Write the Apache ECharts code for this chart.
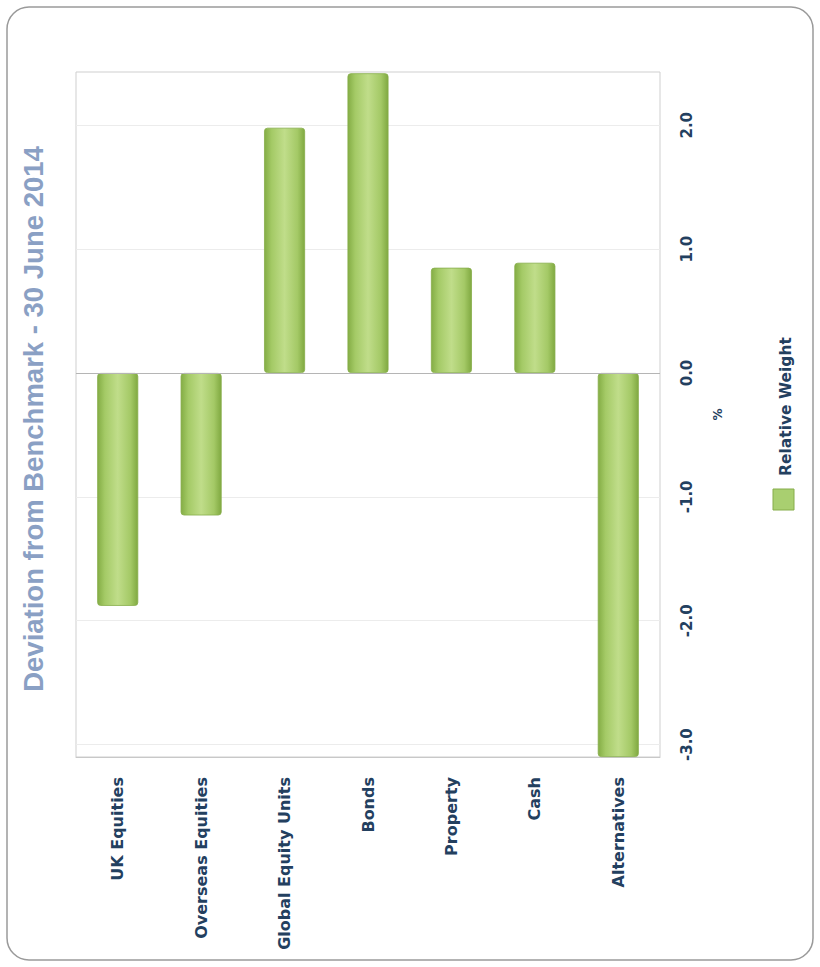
<!DOCTYPE html>
<html>
<head>
<meta charset="utf-8">
<script src="https://cdn.jsdelivr.net/npm/echarts@6/dist/echarts.min.js"></script>
<style>
html,body{margin:0;padding:0;background:#fff;}
#chart{width:820px;height:967px;}
</style>
</head>
<body>
<div id="chart"></div>
<script>
var titleText = 'Deviation from Benchmark - 30 June 2014';
var categories = ['UK Equities', 'Overseas Equities', 'Global Equity Units', 'Bonds', 'Property', 'Cash', 'Alternatives'];
var relativeWeight = [-1.88, -1.15, 1.98, 2.42, 0.85, 0.89, -3.1];
var valueTicks = [-3, -2, -1, 0, 1, 2];
var seriesName = 'Relative Weight';
var axisName = '%';

var navy = '#23405f';
var chart = echarts.init(document.getElementById('chart'), null, {renderer: 'svg'});
var barGrad = new echarts.graphic.LinearGradient(0, 0, 1, 0, [
  {offset: 0, color: '#84ad45'},
  {offset: 0.18, color: '#a4ca66'},
  {offset: 0.5, color: '#c0dd8a'},
  {offset: 0.82, color: '#a4c966'},
  {offset: 1, color: '#80a941'}
]);

chart.setOption({
  animation: false,
  backgroundColor: '#fff',
  grid: {left: 76, right: 160, top: 72, bottom: 210, show: true, borderColor: '#cfcfcf', borderWidth: 1, backgroundColor: 'transparent'},
  xAxis: {
    type: 'category',
    data: categories,
    position: 'bottom',
    axisLine: {onZero: false, lineStyle: {color: '#c8c8c8'}},
    axisTick: {show: false},
    axisLabel: {rotate: 90, margin: 20, color: navy, fontSize: 16, fontWeight: 'bold', fontFamily: 'DejaVu Sans', interval: 0}
  },
  yAxis: {
    type: 'value',
    position: 'right',
    min: -3.1,
    max: 2.43,
    name: axisName,
    nameLocation: 'middle',
    nameGap: 52,
    nameRotate: 90,
    nameTextStyle: {color: navy, fontSize: 12, fontWeight: 'bold', fontFamily: 'DejaVu Sans'},
    axisLine: {show: false},
    axisTick: {show: false, customValues: valueTicks},
    axisLabel: {customValues: valueTicks, rotate: 90, margin: 19, color: navy, fontSize: 15, fontWeight: 'bold', fontFamily: 'DejaVu Sans',
      formatter: function (v) { return Number(v).toFixed(1); }},
    splitLine: {show: true, lineStyle: {color: '#ececec'}}
  },
  series: [{
    type: 'bar',
    name: seriesName,
    data: relativeWeight,
    barWidth: 41,
    itemStyle: {color: barGrad, borderColor: '#86ad4a', borderWidth: 0.8, borderRadius: 3},
    markLine: {
      silent: true,
      symbol: 'none',
      label: {show: false},
      lineStyle: {color: '#b5b5b5', type: 'solid', width: 1},
      data: [{yAxis: 0}]
    },
    z: 3
  }],
  graphic: [
    {type: 'rect', shape: {x: 7, y: 7, width: 806, height: 953, r: 22}, style: {fill: 'none', stroke: '#9a9a9a', lineWidth: 1.5}, z: 0},
    {type: 'text', x: 33, y: 419, rotation: Math.PI / 2,
      style: {text: titleText, fill: '#8aa0c4', font: 'bold 27.5px "Liberation Sans", Arial, sans-serif', align: 'center', verticalAlign: 'middle'}},
    {type: 'rect', shape: {x: 773, y: 489, width: 21, height: 21}, style: {fill: '#a9cf70', stroke: '#86ad4a', lineWidth: 1}},
    {type: 'text', x: 786, y: 476, rotation: Math.PI / 2,
      style: {text: seriesName, fill: navy, font: 'bold 15.5px "DejaVu Sans", sans-serif', align: 'left', verticalAlign: 'middle'}}
  ]
});
</script>
</body>
</html>
